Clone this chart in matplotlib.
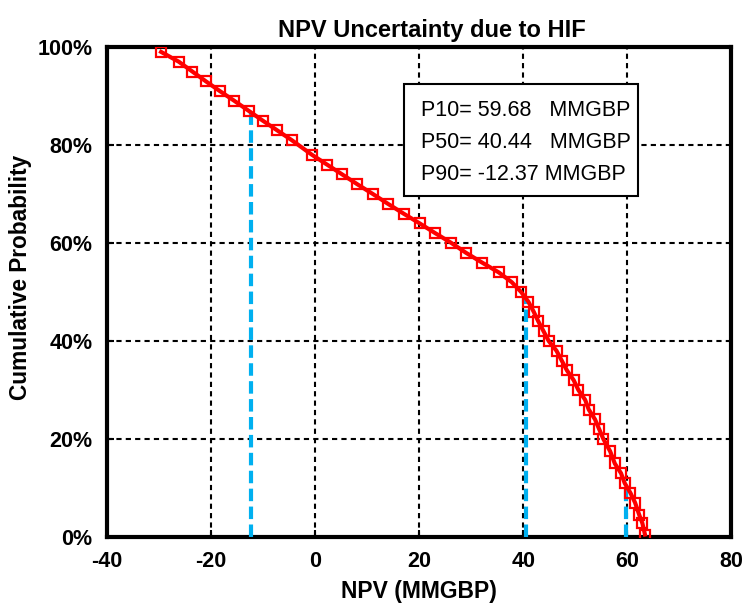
import numpy as np
import matplotlib
matplotlib.use("Agg")
import matplotlib.pyplot as plt
from matplotlib.patches import Rectangle
from matplotlib.ticker import PercentFormatter

plt.rcParams['font.family'] = ['Liberation Sans', 'DejaVu Sans']
plt.rcParams['axes.unicode_minus'] = False

# cumulative curve (NPV in MMGBP, probability in %)
npv = [-29.6, -26.2, -23.6, -21.0, -18.3, -15.5, -12.8, -10.1, -7.3, -4.5,
       -0.6, 2.3, 5.2, 8.1, 11.1, 14.0, 17.0, 20.1, 23.1, 26.2,
       29.0, 32.1, 35.3, 37.8, 39.6, 41.0, 42.0, 42.9, 43.9, 44.9,
       46.4, 47.4, 48.4, 49.7, 50.6, 51.9, 52.6, 53.8, 54.6, 55.4,
       56.7, 57.6, 58.8, 59.5, 60.6, 61.5, 62.3, 62.9, 63.4]
prob = [99, 97, 95, 93, 91, 89, 87, 85, 83, 81,
        78, 76, 74, 72, 70, 68, 66, 64, 62, 60,
        58, 56, 54, 52, 50, 48, 46, 44, 42, 40,
        38, 36, 34, 32, 30, 28, 26, 24, 22, 20,
        17.5, 15, 13, 11, 9, 7, 4.5, 2.8, 0.5]

p_names = ["P10", "P50", "P90"]
p_values = [59.68, 40.44, -12.37]

fig = plt.figure(figsize=(7.44, 6.05), dpi=100)
ax = fig.add_axes([0.1438, 0.1124, 0.8392, 0.8099])

# blue markers of P values, up to the curve
for v in p_values:
    top = np.interp(v, npv, prob)
    ax.plot([v, v], [0, top], color="#00B0F0", lw=3, dashes=(3, 1.3),
            zorder=3, solid_capstyle="butt")

ax.plot(npv, prob, color="red", lw=3, marker="s", ms=7, mfc="none",
        mec="red", mew=1.6, zorder=4)

ax.set_xlim(-40, 80)
ax.set_ylim(0, 100)
ax.set_xticks(range(-40, 81, 20))
ax.set_yticks(range(0, 101, 20))
ax.yaxis.set_major_formatter(PercentFormatter(decimals=0))
ax.grid(True, color="black", lw=1.5, linestyle=(0, (2.5, 2)), zorder=1)
ax.set_axisbelow(True)
for s in ax.spines.values():
    s.set_linewidth(3)
ax.tick_params(direction="in", length=5, width=1.5, labelsize=15.5)
ax.tick_params(axis="x", pad=10)
ax.tick_params(axis="y", pad=10.5)
for lab in ax.get_xticklabels() + ax.get_yticklabels():
    lab.set_fontweight("bold")

ax.set_title("NPV Uncertainty due to HIF", fontsize=17, fontweight="bold",
             pad=7, x=0.52)
ax.set_xlabel("NPV (MMGBP)", fontsize=16.5, fontweight="bold", labelpad=6)
ax.set_ylabel("Cumulative Probability", fontsize=16.3, fontweight="bold")
ax.yaxis.set_label_coords(-0.12, 0.529)

# info box
ax.add_patch(Rectangle((0.4756, 0.6959), 0.3747, 0.2286, transform=ax.transAxes,
                       fc="white", ec="black", lw=1.5, zorder=6))
lines = [
    f"{p_names[0]}= {p_values[0]:.2f}   MMGBP",
    f"{p_names[1]}= {p_values[1]:.2f}   MMGBP",
    f"{p_names[2]}= {p_values[2]:.2f} MMGBP",
]
for txt, yy in zip(lines, [0.8714, 0.8061, 0.7388]):
    ax.text(0.503, yy, txt, transform=ax.transAxes, fontsize=15.5,
            va="center", ha="left", zorder=7)

fig.savefig("out.png", dpi=100)
